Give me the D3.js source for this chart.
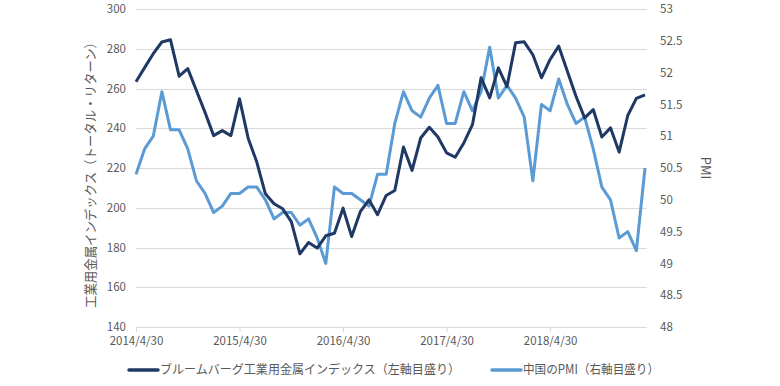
<!DOCTYPE html>
<html>
<head>
<meta charset="utf-8">
<script src="https://cdn.jsdelivr.net/npm/d3@7"></script>
<style>
  body { margin: 0; background: #fff; }
  text { font-family: "Noto Sans CJK JP", sans-serif; fill: #595959; }
</style>
</head>
<body>
<div id="chart"></div>
<script>
// monthly, 2014/4 .. 2019/3
var tickLabels = ['2014/4/30', '2015/4/30', '2016/4/30', '2017/4/30', '2018/4/30']

var metals = [263.4, 270.5, 277.5, 283.4, 284.5, 266.2, 270, 259, 248, 236.3,
  238.8, 236.3, 254.8, 235, 223, 207, 202, 199.5, 193, 176.8,
  182.5, 179.7, 185.9, 187.2, 199.8, 185.5, 198, 204, 196.5, 206.2,
  208.7, 230.6, 218.8, 235.1, 240.5, 235.6, 227.6, 225.4, 232.6, 241.8,
  265.4, 255.3, 270.4, 261, 283, 283.5, 277, 265.4, 274.6, 281.3,
  268.7, 256.1, 245.2, 249.4, 235.6, 240.2, 228, 246.4, 255, 256.8]

var pmi = [50.4, 50.8, 51.0, 51.7, 51.1, 51.1, 50.8, 50.3, 50.1, 49.8,
  49.9, 50.1, 50.1, 50.2, 50.2, 50.0, 49.7, 49.8, 49.8, 49.6,
  49.7, 49.4, 49.0, 50.2, 50.1, 50.1, 50.0, 49.9, 50.4, 50.4,
  51.2, 51.7, 51.4, 51.3, 51.6, 51.8, 51.2, 51.2, 51.7, 51.4,
  51.7, 52.4, 51.6, 51.8, 51.6, 51.3, 50.3, 51.5, 51.4, 51.9,
  51.5, 51.2, 51.3, 50.8, 50.2, 50.0, 49.4, 49.5, 49.2, 50.5]

var leftTicks = [140, 160, 180, 200, 220, 240, 260, 280, 300]
var rightTicks = [48, 48.5, 49, 49.5, 50, 50.5, 51, 51.5, 52, 52.5, 53]

var seriesNames = ['ブルームバーグ工業用金属インデックス（左軸目盛り）', '中国のPMI（右軸目盛り）']
var darkBlue = '#1f3864', lightBlue = '#5b9bd5'

var width = 780, height = 386
var margin = { top: 9, left: 136, right: 647, bottom: 327 }

var svg = d3.select('#chart').append('svg')
  .attr('width', width).attr('height', height)

var x = d3.scaleLinear().domain([0, metals.length - 1]).range([margin.left, 645])
var yLeft = d3.scaleLinear().domain([140, 300]).range([margin.bottom, margin.top])
var yRight = d3.scaleLinear().domain([48, 53]).range([margin.bottom, margin.top])

// gridlines
svg.append('g')
  .selectAll('line')
  .data(leftTicks)
  .enter()
  .append('line')
  .attr('x1', margin.left).attr('x2', margin.right)
  .attr('y1', d => Math.round(yLeft(d)) + 0.5).attr('y2', d => Math.round(yLeft(d)) + 0.5)
  .attr('stroke', '#d9d9d9').attr('stroke-width', 1)

// x axis
var xAxis = d3.axisBottom(x)
  .tickValues([0, 12, 24, 36, 48])
  .tickFormat((d, i) => tickLabels[i])
  .tickSize(5)
  .tickSizeOuter(0)
var gx = svg.append('g')
  .attr('transform', 'translate(0,' + margin.bottom + ')')
  .call(xAxis)
gx.select('.domain').remove()
gx.selectAll('.tick line').attr('stroke', '#d9d9d9')
gx.selectAll('.tick text').attr('font-size', 11.5).attr('dy', 10).style('fill', '#595959')

// left axis
var gl = svg.append('g')
  .attr('transform', 'translate(' + margin.left + ',0)')
  .call(d3.axisLeft(yLeft).tickValues(leftTicks).tickSize(0).tickPadding(10))
gl.select('.domain').remove()
gl.selectAll('text').attr('font-size', 11.5).style('fill', '#595959')

// right axis
var gr = svg.append('g')
  .attr('transform', 'translate(' + margin.right + ',0)')
  .call(d3.axisRight(yRight).tickValues(rightTicks).tickFormat(d3.format('~g')).tickSize(0).tickPadding(13))
gr.select('.domain').remove()
gr.selectAll('text').attr('font-size', 11.5).style('fill', '#595959')

// axis titles
svg.append('text')
  .attr('transform', 'translate(95,172) rotate(-90)')
  .attr('text-anchor', 'middle')
  .attr('font-size', 13)
  .attr('textLength', 272)
  .attr('lengthAdjust', 'spacingAndGlyphs')
  .text('工業用金属インデックス（トータル・リターン）')

svg.append('text')
  .attr('transform', 'translate(701,' + ((margin.top + margin.bottom) / 2) + ') rotate(90)')
  .attr('text-anchor', 'middle')
  .attr('font-size', 13)
  .text('PMI')

// lines
var lineLeft = d3.line().x((d, i) => x(i)).y(d => yLeft(d))
var lineRight = d3.line().x((d, i) => x(i)).y(d => yRight(d))

svg.append('path')
  .datum(pmi)
  .attr('d', lineRight)
  .attr('fill', 'none')
  .attr('stroke', lightBlue)
  .attr('stroke-width', 3)
  .attr('stroke-linejoin', 'round')

svg.append('path')
  .datum(metals)
  .attr('d', lineLeft)
  .attr('fill', 'none')
  .attr('stroke', darkBlue)
  .attr('stroke-width', 3)
  .attr('stroke-linejoin', 'round')

// legend
var legend = [
  { name: seriesNames[0], color: darkBlue, x: 129, w: 300 },
  { name: seriesNames[1], color: lightBlue, x: 492, w: 136 }
]
var lg = svg.append('g')
  .selectAll('g')
  .data(legend)
  .enter()
  .append('g')
  .attr('transform', d => 'translate(' + d.x + ',370)')
lg.append('line')
  .attr('x1', 0).attr('x2', 29)
  .attr('stroke', d => d.color)
  .attr('stroke-width', 3.5)
  .attr('stroke-linecap', 'round')
lg.append('text')
  .attr('x', 31)
  .attr('dy', '0.35em')
  .attr('font-size', 12.5)
  .attr('textLength', d => d.w)
  .attr('lengthAdjust', 'spacingAndGlyphs')
  .text(d => d.name)
</script>
</body>
</html>
